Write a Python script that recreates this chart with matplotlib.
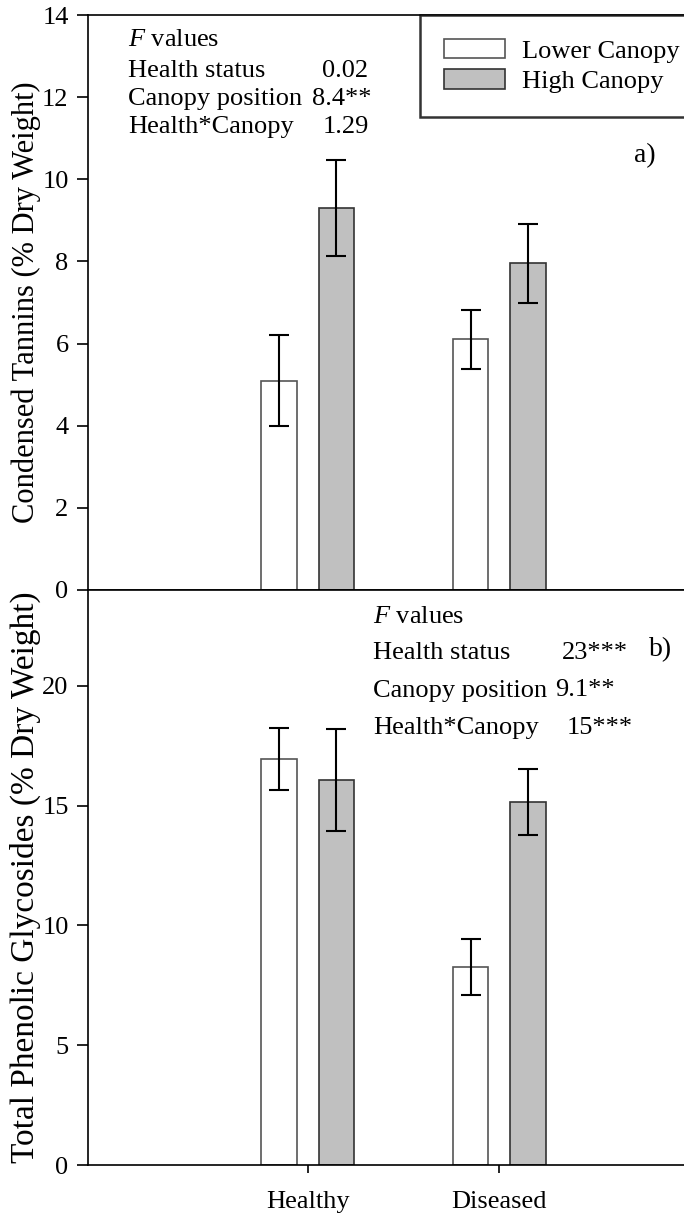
import matplotlib
matplotlib.use("Agg")
import matplotlib.pyplot as plt
import numpy as np

plt.rcParams['font.family'] = ['Liberation Serif', 'DejaVu Serif']
plt.rcParams['mathtext.fontset'] = 'custom'
plt.rcParams['mathtext.it'] = 'Liberation Serif:italic'
plt.rcParams['mathtext.rm'] = 'Liberation Serif'

groups = ["Healthy", "Diseased"]
series = ["Lower Canopy", "High Canopy"]

tannins_lower = [5.1, 6.1]
tannins_lower_err = [1.1, 0.72]
tannins_high = [9.3, 7.95]
tannins_high_err = [1.17, 0.95]

phen_lower = [16.95, 8.26]
phen_lower_err = [1.28, 1.18]
phen_high = [16.07, 15.14]
phen_high_err = [2.14, 1.37]

fvals_a_labels = ["Health status", "Canopy position", "Health*Canopy"]
fvals_a = ["0.02", "8.4**", "1.29"]
fvals_b_labels = ["Health status", "Canopy position", "Health*Canopy"]
fvals_b = ["23***", "9.1**", "15***"]

W, H = 684, 1219
fig = plt.figure(figsize=(W / 100, H / 100), dpi=100)

L, R = 88, 719
def fx(px):
    return px / W

ax1 = fig.add_axes([fx(L), 1 - 590 / H, (R - L) / W, (590 - 15) / H])
ax2 = fig.add_axes([fx(L), 1 - 1165 / H, (R - L) / W, (1165 - 590) / H])

x = np.arange(len(groups))
bw = 0.183
off = 0.15
FS = 19

lower_style = dict(color="white", edgecolor="#555555", linewidth=1.2)
high_style = dict(color="#c0c0c0", edgecolor="#333333", linewidth=1.2)
err_kw = dict(ecolor="black", capsize=7.5, elinewidth=1.5, capthick=1.5)

for ax, lo, loe, hi, hie, ylim in [
    (ax1, tannins_lower, tannins_lower_err, tannins_high, tannins_high_err, (0, 14)),
    (ax2, phen_lower, phen_lower_err, phen_high, phen_high_err, (0, 24)),
]:
    ax.bar(x - off, lo, bw, yerr=loe, error_kw=err_kw, label=series[0], **lower_style)
    ax.bar(x + off, hi, bw, yerr=hie, error_kw=err_kw, label=series[1], **high_style)
    ax.set_xlim(-1.147, 2.147)
    ax.set_ylim(*ylim)
    for s in ax.spines.values():
        s.set_linewidth(1.2)
    ax.tick_params(axis='y', direction='out', length=8, width=1.2, labelsize=FS, pad=6)

ax1.set_yticks(np.arange(0, 15, 2))
ax1.set_xticks([])
ax2.set_yticks(np.arange(0, 21, 5))
ax2.set_xticks(x)
ax2.set_xticklabels(groups)
ax2.tick_params(axis='x', direction='out', length=6, width=1.2, labelsize=FS, pad=13)

ax1.set_ylabel("Condensed Tannins (% Dry Weight)", fontsize=22)
ax2.set_ylabel("Total Phenolic Glycosides (% Dry Weight)", fontsize=24)
ax1.yaxis.set_label_coords((41 - L) / (R - L), 0.5)
ax2.yaxis.set_label_coords((41 - L) / (R - L), 0.5)

# legend
leg = ax1.legend(loc="upper left", bbox_to_anchor=((420 - L) / (R - L), 1 - 100 / 575, 0.5, 100 / 575),
                 mode="expand", borderaxespad=0, fontsize=FS, frameon=True, fancybox=False,
                 handlelength=2.31, handleheight=0.76, handletextpad=0.64, labelspacing=0.25,
                 borderpad=0.9)
leg.get_frame().set_edgecolor("black")
leg.get_frame().set_linewidth(1.8)

def axc(px, py, top):
    base = 590 if top else 1165
    return ((px - L) / (R - L), (base - py) / 575)

# panel a annotations
ax1.text(*axc(128, 40, True), r"$F$ values", transform=ax1.transAxes, fontsize=FS, va="center", ha="left")
a_val_x = [345, 342, 346]
for i, (lab, v) in enumerate(zip(fvals_a_labels, fvals_a)):
    py = 71 + 28 * i
    ax1.text(*axc(128, py, True), lab, transform=ax1.transAxes, fontsize=FS, va="center", ha="left")
    ax1.text(*axc(a_val_x[i], py, True), v, transform=ax1.transAxes, fontsize=FS, va="center", ha="center")
ax1.text(*axc(656, 156, True), "a)", transform=ax1.transAxes, fontsize=FS + 1, va="center", ha="right")

# panel b annotations
ax2.text(*axc(373, 617, False), r"$F$ values", transform=ax2.transAxes, fontsize=FS, va="center", ha="left")
b_val_x = [595, 585, 600]
for i, (lab, v) in enumerate(zip(fvals_b_labels, fvals_b)):
    py = 653 + 37.5 * i
    ax2.text(*axc(373, py, False), lab, transform=ax2.transAxes, fontsize=FS, va="center", ha="left")
    ax2.text(*axc(b_val_x[i], py, False), v, transform=ax2.transAxes, fontsize=FS, va="center", ha="center")
ax2.text(*axc(672, 650, False), "b)", transform=ax2.transAxes, fontsize=FS + 1, va="center", ha="right")

fig.savefig("out.png", dpi=100)
